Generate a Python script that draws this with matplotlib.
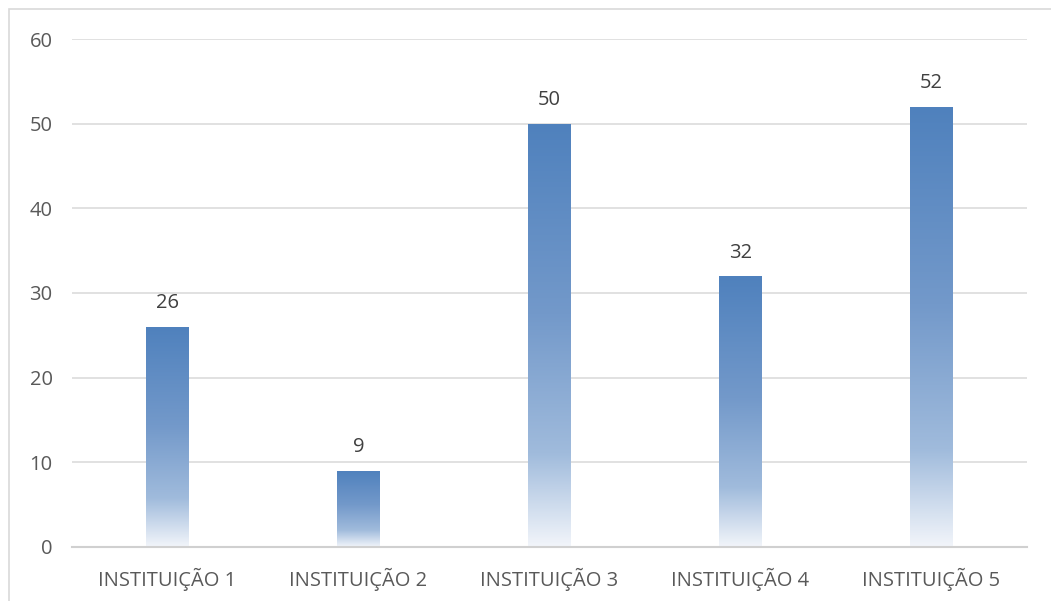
import numpy as np
import matplotlib.pyplot as plt
from matplotlib.colors import LinearSegmentedColormap
from matplotlib.patches import Rectangle

# Dados
categorias = ['INSTITUIÇÃO 1', 'INSTITUIÇÃO 2', 'INSTITUIÇÃO 3', 'INSTITUIÇÃO 4', 'INSTITUIÇÃO 5']
valores = [26, 9, 50, 32, 52]
yticks = [0, 10, 20, 30, 40, 50, 60]

plt.rcParams['font.family'] = ['Open Sans', 'DejaVu Sans']

# gradiente das barras: azul no topo, quase branco na base
grad = LinearSegmentedColormap.from_list('barra', [
    (0.0, '#f2f5fa'),
    (0.22, '#a0bbdc'),
    (0.55, '#7399ca'),
    (1.0, '#4f81bd'),
])

fig = plt.figure(figsize=(10.51, 6.01), dpi=100)
ax = fig.add_axes([0.0685, 0.0899, 0.9085, 0.8452])

x = np.arange(len(categorias))
largura = 0.22
barras = ax.bar(x, valores, width=largura, color='none', zorder=3)

gradiente = np.linspace(0, 1, 256).reshape(-1, 1)
for b in barras:
    x0, y0 = b.get_x(), b.get_y()
    w, h = b.get_width(), b.get_height()
    img = ax.imshow(gradiente, cmap=grad, origin='lower', aspect='auto',
                    extent=[x0, x0 + w, y0, y0 + h], zorder=2)
    img.set_clip_path(b)
    ax.text(x0 + w / 2, y0 + h + 1.6, str(int(h)), ha='center', va='bottom',
            fontsize=14.5, color='#404040')

ax.set_xlim(-0.5, len(categorias) - 0.5)
ax.set_ylim(0, 60)
ax.set_yticks(yticks)
ax.set_xticks(x)
ax.set_xticklabels(categorias)
ax.tick_params(axis='both', length=0, labelsize=14.5, labelcolor='#595959')
ax.tick_params(axis='y', pad=14)
ax.tick_params(axis='x', pad=15)

ax.grid(axis='y', color='#d9d9d9', linewidth=1.1, zorder=0)
ax.set_axisbelow(True)
for s in ['top', 'right', 'left']:
    ax.spines[s].set_visible(False)
ax.spines['bottom'].set_color('#d0d0d0')
ax.spines['bottom'].set_linewidth(1.5)

# moldura do gráfico
fig.patches.append(Rectangle((9 / 1051, -0.05), 1.1, 1 - 9 / 601 + 0.05,
                             transform=fig.transFigure, fill=False,
                             edgecolor='#d9d9d9', linewidth=1.2))

fig.savefig('out.png', dpi=100)
